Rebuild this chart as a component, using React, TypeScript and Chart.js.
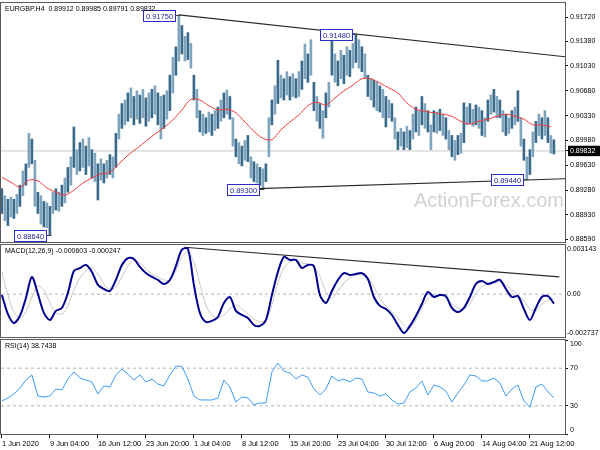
import React, { useEffect, useRef } from 'react';
import { Chart, registerables } from 'chart.js';

Chart.register(...registerables);

const FONT = '"Liberation Sans", Arial, sans-serif';
const FS = 7;

// ---------------- data ----------------
const symbolName = 'EURGBP.H4';
const lastBarOHLC = [0.89912, 0.89985, 0.89791, 0.89832];
const lastClose = 0.89832;

const barHighs = [
  0.8930, 0.8920, 0.8915, 0.8918, 0.8915, 0.8922, 0.8935, 0.8955, 0.8965, 0.9008,
  0.9000, 0.8970, 0.8925, 0.8920, 0.8912, 0.8910, 0.8905, 0.8925, 0.8930, 0.8925,
  0.8935, 0.8945, 0.8960, 0.8975, 0.9017, 0.8985, 0.8995, 0.9000, 0.8990, 0.9002,
  0.8985, 0.8980, 0.8965, 0.8972, 0.8965, 0.8970, 0.8978, 0.8975, 0.9008, 0.9035,
  0.9050, 0.9055, 0.9065, 0.9072, 0.9060, 0.9068, 0.9062, 0.9070, 0.9058, 0.9065,
  0.9070, 0.9075, 0.9065, 0.9060, 0.9062, 0.9068, 0.9090, 0.9115, 0.9130, 0.9175,
  0.9160, 0.9145, 0.9150, 0.9135, 0.9090, 0.9070, 0.9040, 0.9035, 0.9030, 0.9038,
  0.9035, 0.9040, 0.9045, 0.9055, 0.9065, 0.9069, 0.9060, 0.9030, 0.9000, 0.8995,
  0.8990, 0.8998, 0.9005, 0.8975, 0.8968, 0.8965, 0.8960, 0.8958, 0.8965, 0.9030,
  0.9055, 0.9075, 0.9111, 0.9090, 0.9085, 0.9095, 0.9088, 0.9092, 0.9085, 0.9095,
  0.9110, 0.9134, 0.9120, 0.9140, 0.9080, 0.9060, 0.9050, 0.9040, 0.9065, 0.9080,
  0.9140, 0.9120, 0.9110, 0.9125, 0.9118, 0.9130, 0.9125, 0.9135, 0.9148, 0.9140,
  0.9130, 0.9120, 0.9090, 0.9085, 0.9083, 0.9080, 0.9075, 0.9070, 0.9060, 0.9055,
  0.9050, 0.9030, 0.9010, 0.9015, 0.9010, 0.9018, 0.9012, 0.9035, 0.9045, 0.9040,
  0.9060, 0.9050, 0.9040, 0.9020, 0.9040, 0.9038, 0.9042, 0.9035, 0.9030, 0.9012,
  0.9005, 0.8998, 0.9005, 0.9008, 0.9051, 0.9045, 0.9050, 0.9042, 0.9048, 0.9045,
  0.9040, 0.9030, 0.9055, 0.9062, 0.9070, 0.9060, 0.9055, 0.9040, 0.9035, 0.9030,
  0.9040, 0.9045, 0.9068, 0.9030, 0.9000, 0.8975, 0.8985, 0.9010, 0.9025, 0.9035,
  0.9030, 0.9040, 0.9030, 0.9005, 0.8999,
];

const barLows = [
  0.8895, 0.8885, 0.8878, 0.8890, 0.8888, 0.8895, 0.8905, 0.8920, 0.8935, 0.8960,
  0.8965, 0.8905, 0.8895, 0.8880, 0.8876, 0.8875, 0.8864, 0.8895, 0.8900, 0.8898,
  0.8905, 0.8910, 0.8925, 0.8935, 0.8960, 0.8950, 0.8955, 0.8960, 0.8950, 0.8962,
  0.8945, 0.8940, 0.8914, 0.8942, 0.8938, 0.8945, 0.8950, 0.8945, 0.8960, 0.9000,
  0.9015, 0.9020, 0.9025, 0.9030, 0.9020, 0.9028, 0.9022, 0.9030, 0.9018, 0.9025,
  0.9030, 0.9035, 0.9020, 0.9000, 0.9015, 0.9028, 0.9040, 0.9065, 0.9090, 0.9110,
  0.9120, 0.9110, 0.9112, 0.9100, 0.9055, 0.9030, 0.9010, 0.9005, 0.9008, 0.9010,
  0.9005, 0.9012, 0.9015, 0.9025, 0.9030, 0.9035, 0.9028, 0.8990, 0.8975, 0.8965,
  0.8962, 0.8970, 0.8968, 0.8945, 0.8940, 0.8938, 0.8935, 0.8930, 0.8940, 0.8975,
  0.9020, 0.9035, 0.9050, 0.9058, 0.9055, 0.9062, 0.9055, 0.9060, 0.9058, 0.9060,
  0.9070, 0.9085, 0.9080, 0.9090, 0.9040, 0.9025, 0.9015, 0.9001, 0.9030, 0.9045,
  0.9090, 0.9080, 0.9075, 0.9085, 0.9078, 0.9090, 0.9088, 0.9100, 0.9108, 0.9100,
  0.9095, 0.9085, 0.9060, 0.9055, 0.9045, 0.9040, 0.9038, 0.9030, 0.9017, 0.9030,
  0.9025, 0.9000, 0.8985, 0.8990, 0.8985, 0.8988, 0.8985, 0.9000, 0.9010, 0.9005,
  0.9020, 0.9015, 0.9010, 0.8985, 0.9010, 0.9008, 0.9012, 0.9005, 0.9000, 0.8985,
  0.8975, 0.8970, 0.8978, 0.8980, 0.8995, 0.9020, 0.9022, 0.9018, 0.9020, 0.9015,
  0.9005, 0.9003, 0.9025, 0.9035, 0.9038, 0.9030, 0.9030, 0.9010, 0.9005, 0.9008,
  0.9015, 0.9020, 0.9025, 0.8990, 0.8970, 0.8944, 0.8950, 0.8975, 0.8995, 0.9005,
  0.9000, 0.9005, 0.8995, 0.8980, 0.8979,
];

// moving average, one value every 3 bars
const maStep = 3;
const maValues = [
  0.8946, 0.8939, 0.8932, 0.8942, 0.8941, 0.8931, 0.8925, 0.8921, 0.8928, 0.8938,
  0.8945, 0.8951, 0.8953, 0.8965, 0.8977, 0.8987, 0.8997, 0.9007, 0.9016, 0.9027,
  0.9041, 0.9056, 0.9055, 0.9047, 0.9041, 0.9042, 0.9037, 0.9024, 0.9011, 0.9001,
  0.8999, 0.9013, 0.9024, 0.9034, 0.9047, 0.9052, 0.9048, 0.9058, 0.9068, 0.9076,
  0.9085, 0.9085, 0.9079, 0.9072, 0.9065, 0.9051, 0.9042, 0.9039, 0.9037, 0.9035,
  0.9032, 0.9025, 0.9021, 0.9025, 0.9028, 0.9032, 0.9035, 0.9032, 0.9028, 0.9020,
  0.9020, 0.9017,
];

// indicators, one value every 2 bars
const indicatorStep = 2;
const macdMain = [
  -0.00005, -0.00127, -0.00184, -0.00139, -0.00024, 0.00110, 0.00001, -0.00120, -0.00165, -0.00107,
  -0.00088, 0.00008, 0.00148, 0.00167, 0.00187, 0.00142, 0.00059, 0.00033, 0.00020, 0.00091,
  0.00187, 0.00231, 0.00225, 0.00174, 0.00135, 0.00110, 0.00091, 0.00065, 0.00091, 0.00180,
  0.00285, 0.00290, 0.00059, -0.00120, -0.00178, -0.00171, -0.00146, -0.00056, -0.00018, -0.00107,
  -0.00133, -0.00152, -0.00197, -0.00203, -0.00165, -0.00005, 0.00142, 0.00238, 0.00219, 0.00219,
  0.00167, 0.00187, 0.00180, -0.00005, -0.00056, 0.00020, 0.00091, 0.00135, 0.00123, 0.00129,
  0.00135, 0.00097, -0.00018, -0.00075, -0.00095, -0.00133, -0.00197, -0.00248, -0.00203, -0.00139,
  -0.00063, 0.00014, -0.00018, -0.00005, -0.00012, -0.00088, -0.00114, -0.00088, -0.00018, 0.00065,
  0.00084, 0.00065, 0.00078, 0.00091, 0.00033, -0.00018, -0.00012, -0.00095, -0.00165, -0.00088,
  -0.00018, -0.00012, -0.00060,
];
const macdSignal = [
  0.00142, -0.00005, -0.00114, -0.00152, -0.00114, -0.00018, 0.00052, 0.00027, -0.00056, -0.00120,
  -0.00127, -0.00075, 0.00027, 0.00104, 0.00148, 0.00167, 0.00129, 0.00065, 0.00027, 0.00046,
  0.00110, 0.00180, 0.00219, 0.00199, 0.00161, 0.00129, 0.00110, 0.00091, 0.00091, 0.00148,
  0.00238, 0.00270, 0.00206, 0.00065, -0.00069, -0.00133, -0.00152, -0.00133, -0.00095, -0.00069,
  -0.00095, -0.00127, -0.00158, -0.00178, -0.00165, -0.00069, 0.00072, 0.00167, 0.00206, 0.00219,
  0.00199, 0.00193, 0.00174, 0.00116, 0.00014, -0.00024, 0.00020, 0.00072, 0.00104, 0.00123,
  0.00123, 0.00104, 0.00046, -0.00024, -0.00075, -0.00114, -0.00152, -0.00197, -0.00216, -0.00165,
  -0.00088, -0.00031, -0.00012, -0.00005, -0.00024, -0.00063, -0.00088, -0.00095, -0.00063, 0.00008,
  0.00046, 0.00065, 0.00072, 0.00078, 0.00059, 0.00027, -0.00005, -0.00043, -0.00095, -0.00107,
  -0.00063, -0.00037, -0.00025,
];
const macdHeader = [-0.000603, -0.000247];

const rsiValues = [
  35.1, 38.3, 42.6, 48.9, 57.4, 62.8, 40.4, 39.4, 40.4, 47.9,
  46.8, 58.5, 66.0, 59.6, 57.4, 55.3, 42.6, 51.1, 50.0, 62.8,
  69.1, 63.8, 57.4, 62.8, 55.3, 58.5, 53.2, 51.1, 62.8, 72.3,
  72.0, 58.5, 40.4, 36.2, 36.2, 36.2, 38.3, 57.4, 50.0, 34.0,
  39.4, 38.3, 30.9, 33.0, 33.0, 66.0, 75.5, 67.0, 64.9, 58.5,
  62.8, 60.6, 47.9, 41.5, 47.9, 61.7, 56.4, 58.5, 55.3, 59.6,
  58.5, 44.7, 43.6, 40.4, 42.6, 36.2, 31.9, 33.0, 44.7, 48.9,
  56.4, 41.5, 52.1, 50.0, 45.7, 34.0, 43.6, 52.1, 62.8, 61.7,
  56.4, 56.4, 59.6, 54.3, 40.4, 47.9, 52.1, 35.1, 28.5, 50.0,
  53.2, 44.7, 38.7,
];
const rsiHeader = 38.7438;

const priceTicks = [0.8859, 0.8893, 0.8928, 0.8963, 0.8998, 0.9033, 0.9068, 0.9103, 0.9138, 0.9172];
const priceMin = 0.88548;
const priceMax = 0.91918;
const macdTicks = [-0.002737, 0, 0.003143];
const rsiTicks = [0, 30, 70, 100];
const rsiLevels = [30, 70];

const timeLabels = [
  '1 Jun 2020', '9 Jun 04:00', '16 Jun 12:00', '23 Jun 20:00', '1 Jul 04:00', '8 Jul 12:00',
  '15 Jul 20:00', '23 Jul 04:00', '30 Jul 12:00', '6 Aug 20:00', '14 Aug 04:00', '21 Aug 12:00',
];
const timeLabelBars = [0, 16, 32, 48, 64, 80, 96, 112, 128, 144, 160, 176];

const xMin = -0.3;
const xMax = 187.7;

const upperTrendBars = [59, 187.7];
const upperTrendPrices = [0.9175, 0.9116];
const lowerTrendBars = [85.3, 187.7];
const lowerTrendPrices = [0.8930, 0.8944];
const macdTrendBars = [60.8, 185.8];
const macdTrendValues = [0.00300, 0.00110];

const swingBars = [16, 59, 87, 118, 175];
const swingPrices = [0.8864, 0.9175, 0.8930, 0.9148, 0.8944];

// ---------------- helpers ----------------
const tickFont = { size: FS, family: FONT };

function hiddenX(): any {
  return { type: 'linear', min: xMin, max: xMax, display: false, offset: false, bounds: 'data' };
}

function rightAxis(
  min: number,
  max: number,
  ticks: number[],
  callback: any,
  extra: any = {},
  tickLength = 3,
  padding = 2
): any {
  return {
    type: 'linear',
    position: 'right',
    min,
    max,
    bounds: 'data',
    afterBuildTicks: (s: any) => {
      s.ticks = ticks.map((v) => ({ value: v }));
    },
    afterFit: (s: any) => {
      s.width = 35;
      s.paddingTop = 0;
      s.paddingBottom = 0;
    },
    grid: {
      drawOnChartArea: false,
      drawTicks: tickLength > 0,
      tickLength,
      color: '#000',
      lineWidth: 1,
    },
    border: { display: false },
    ticks: { font: tickFont, color: '#000', padding, autoSkip: false, callback, ...extra },
  };
}

function seriesPoints(values: number[], step: number) {
  return values.map((v, i) => ({ x: i * step, y: v }));
}

function pairPoints(xs: number[], ys: number[]) {
  return xs.map((x, i) => ({ x, y: ys[i] }));
}

function framePlugin(header: string, watermark: boolean): any {
  return {
    id: 'frame',
    beforeDatasetsDraw(chart: any) {
      if (!watermark) return;
      const { ctx, chartArea: a } = chart;
      ctx.save();
      ctx.font = `20px ${FONT}`;
      ctx.fillStyle = '#d2d2d2';
      ctx.textAlign = 'right';
      ctx.textBaseline = 'middle';
      ctx.fillText('ActionForex.com', a.right - 1, 201);
      ctx.restore();
    },
    afterDraw(chart: any) {
      const { ctx, chartArea: a } = chart;
      ctx.save();
      ctx.strokeStyle = '#5a5a5a';
      ctx.lineWidth = 1;
      ctx.strokeRect(a.left - 0.5, a.top - 0.5, a.right - a.left + 1, a.bottom - a.top + 1);
      ctx.font = `${FS}px ${FONT}`;
      ctx.fillStyle = '#000';
      ctx.textAlign = 'left';
      ctx.textBaseline = 'middle';
      ctx.fillText(header, a.left + 4, a.top + 6);
      ctx.restore();
    },
  };
}

const swingPlugin: any = {
  id: 'swings',
  afterDatasetsDraw(chart: any) {
    const { ctx } = chart;
    const xs = chart.scales.x;
    const ys = chart.scales.y;
    ctx.save();
    ctx.font = `${FS + 0.5}px ${FONT}`;
    ctx.lineWidth = 1;
    swingBars.forEach((bar, i) => {
      const price = swingPrices[i];
      const text = price.toFixed(5);
      const bx = xs.getPixelForValue(bar);
      const by = Math.round(ys.getPixelForValue(price)) + 0.5;
      const w = Math.round(ctx.measureText(text).width) + 5;
      const h = 11;
      const right = Math.round(bx - 4) + 0.5;
      const left = right - w;
      const top = Math.round(by - h / 2);
      ctx.strokeStyle = '#444';
      ctx.beginPath();
      ctx.moveTo(right, by);
      ctx.lineTo(bx + 1.5, by);
      ctx.stroke();
      ctx.fillStyle = '#fff';
      ctx.fillRect(left, top + 0.5, w, h);
      ctx.strokeStyle = '#2c2cc8';
      ctx.strokeRect(left, top + 0.5, w, h);
      ctx.fillStyle = '#23239a';
      ctx.textAlign = 'center';
      ctx.textBaseline = 'middle';
      ctx.fillText(text, left + w / 2, top + h / 2 + 1);
    });
    ctx.restore();
  },
};

const baseOptions: any = {
  responsive: false,
  maintainAspectRatio: false,
  animation: false,
  events: [],
  plugins: { legend: { display: false }, tooltip: { enabled: false } },
  elements: { point: { radius: 0 } },
};

function mainConfig(): any {
  const header = `${symbolName}  ${lastBarOHLC.map((v) => v.toFixed(5)).join(' ')}`;
  const allTicks = [...priceTicks, lastClose].sort((a, b) => a - b);
  return {
    type: 'bar',
    data: {
      datasets: [
        {
          type: 'line',
          data: seriesPoints(maValues, maStep),
          borderColor: '#f23b3b',
          borderWidth: 1,
          pointRadius: 0,
          tension: 0.3,
        },
        {
          type: 'line',
          data: pairPoints(upperTrendBars, upperTrendPrices),
          borderColor: '#2a2a2a',
          borderWidth: 1.2,
          pointRadius: 0,
        },
        {
          type: 'line',
          data: pairPoints(lowerTrendBars, lowerTrendPrices),
          borderColor: '#2a2a2a',
          borderWidth: 1.2,
          pointRadius: 0,
        },
        {
          type: 'bar',
          data: barHighs.map((h, i) => ({ x: i, y: [barLows[i], h] })),
          backgroundColor: barHighs.map((_, i) => (i % 2 === 0 ? '#3a6b8b' : '#7ea5bd')),
          borderWidth: 0,
          barThickness: 2,
          grouped: false,
        },
        {
          type: 'line',
          data: [
            { x: xMin, y: lastClose },
            { x: xMax, y: lastClose },
          ],
          borderColor: '#c9c9c9',
          borderWidth: 1,
          pointRadius: 0,
        },
      ],
    },
    options: {
      ...baseOptions,
      layout: { padding: { left: 1, right: 0, top: 3, bottom: 8 } },
      scales: {
        x: hiddenX(),
        y: rightAxis(priceMin, priceMax, allTicks, (v: number) => v.toFixed(5), {
          color: (c: any) => (c.tick && c.tick.value === lastClose ? '#fff' : '#000'),
          showLabelBackdrop: true,
          backdropColor: (c: any) => (c.tick && c.tick.value === lastClose ? '#000' : 'rgba(0,0,0,0)'),
          backdropPadding: { top: 1, bottom: 1, left: 2, right: 6 },
        }),
      },
    },
    plugins: [framePlugin(header, true), swingPlugin],
  };
}

function macdConfig(): any {
  const header = `MACD(12,26,9) ${macdHeader[0].toFixed(6)} ${macdHeader[1].toFixed(6)}`;
  const top = macdTicks[2];
  const bottom = macdTicks[0];
  return {
    type: 'line',
    data: {
      datasets: [
        {
          data: seriesPoints(macdMain, indicatorStep),
          borderColor: '#000090',
          borderWidth: 2,
          pointRadius: 0,
          tension: 0.3,
        },
        {
          data: seriesPoints(macdSignal, indicatorStep),
          borderColor: '#c8c8c8',
          borderWidth: 1,
          pointRadius: 0,
          tension: 0.3,
        },
        {
          data: pairPoints(macdTrendBars, macdTrendValues),
          borderColor: '#2a2a2a',
          borderWidth: 1.2,
          pointRadius: 0,
        },
        {
          data: [
            { x: xMin, y: 0 },
            { x: xMax, y: 0 },
          ],
          borderColor: '#b4b4b4',
          borderWidth: 1,
          borderDash: [3, 3],
          pointRadius: 0,
        },
      ],
    },
    options: {
      ...baseOptions,
      layout: { padding: { left: 1, right: 0, top: 5, bottom: 5 } },
      scales: {
        x: hiddenX(),
        y: rightAxis(
          bottom,
          top,
          macdTicks,
          (v: number) => (v === top ? ['', v.toFixed(6)] : v === bottom ? [v.toFixed(6), ''] : '0.00'),
          {},
          0,
          2
        ),
      },
    },
    plugins: [framePlugin(header, false)],
  };
}

function rsiConfig(): any {
  const header = `RSI(14) ${rsiHeader.toFixed(4)}`;
  return {
    type: 'line',
    data: {
      datasets: [
        {
          data: seriesPoints(rsiValues, indicatorStep),
          borderColor: '#3d9cf2',
          borderWidth: 1,
          pointRadius: 0,
          tension: 0,
        },
        ...rsiLevels.map((lv) => ({
          data: [
            { x: xMin, y: lv },
            { x: xMax, y: lv },
          ],
          borderColor: '#b4b4b4',
          borderWidth: 1,
          borderDash: [3, 3],
          pointRadius: 0,
        })),
      ],
    },
    options: {
      ...baseOptions,
      layout: { padding: { left: 1, right: 0, top: 4, bottom: 0 } },
      scales: {
        x: {
          type: 'linear',
          position: 'bottom',
          min: xMin,
          max: xMax,
          offset: false,
          bounds: 'data',
          afterBuildTicks: (s: any) => {
            s.ticks = timeLabelBars.map((v) => ({ value: v }));
          },
          afterFit: (s: any) => {
            s.height = 16;
            s.paddingLeft = 0;
            s.paddingRight = 0;
          },
          grid: { drawOnChartArea: false, drawTicks: true, tickLength: 4, color: '#000' },
          border: { display: false },
          ticks: {
            autoSkip: false,
            maxRotation: 0,
            minRotation: 0,
            align: 'start',
            padding: 1,
            font: { size: 7.5, family: FONT },
            color: '#000',
            callback: (v: number) => {
              const i = timeLabelBars.indexOf(v);
              return i >= 0 ? timeLabels[i] : '';
            },
          },
        },
        y: rightAxis(0, 100, rsiTicks, (v: number) =>
          v === 100 ? ['', '100'] : v === 0 ? ['0', ''] : String(v)
        ),
      },
    },
    plugins: [framePlugin(header, false)],
  };
}

export default function App() {
  const mainRef = useRef<HTMLCanvasElement>(null);
  const macdRef = useRef<HTMLCanvasElement>(null);
  const rsiRef = useRef<HTMLCanvasElement>(null);

  useEffect(() => {
    document.body.style.margin = '0';
    const charts = [
      new Chart(mainRef.current as HTMLCanvasElement, mainConfig()),
      new Chart(macdRef.current as HTMLCanvasElement, macdConfig()),
      new Chart(rsiRef.current as HTMLCanvasElement, rsiConfig()),
    ];
    return () => charts.forEach((c) => c.destroy());
  }, []);

  return (
    <div
      style={{
        position: 'absolute',
        left: 0,
        top: 0,
        width: 600,
        height: 450,
        background: '#fff',
        overflow: 'hidden',
      }}
    >
      <canvas ref={mainRef} width={600} height={250} style={{ position: 'absolute', left: 0, top: 0 }} />
      <canvas ref={macdRef} width={600} height={102} style={{ position: 'absolute', left: 0, top: 240 }} />
      <canvas ref={rsiRef} width={600} height={114} style={{ position: 'absolute', left: 0, top: 336 }} />
    </div>
  );
}
